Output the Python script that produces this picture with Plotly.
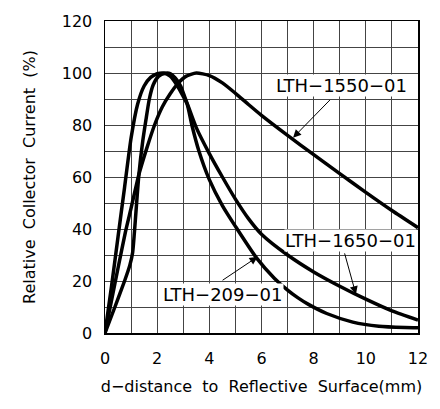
import plotly.graph_objects as go

# LTH-209-01
x209 = [0, 0.25, 0.5, 0.75, 1.0, 1.25, 1.5, 1.75, 2.0, 2.25, 2.5, 2.75, 3.0, 3.15, 3.33, 3.6, 4.0, 4.5, 5.0, 5.8, 6.5, 7.0, 7.4, 7.8, 8.5, 9.5, 10.5, 11.5, 12]
y209 = [0, 18, 37, 56, 75, 88, 95, 98.3, 99.7, 100, 98.8, 95.5, 91, 88, 80, 70, 59, 49, 41, 29, 21, 16.5, 13.5, 11, 7.5, 4.2, 2.6, 2.1, 2]

# LTH-1650-01
x1650 = [0, 0.38, 0.75, 0.95, 1.06, 1.13, 1.3, 1.45, 1.57, 1.7, 1.85, 2.05, 2.3, 2.5, 2.7, 2.9, 3.05, 3.2, 3.5, 4.0, 4.5, 5.0, 5.5, 6.0, 7.0, 8.0, 9.0, 10.0, 11.0, 12.0]
y1650 = [0, 10, 20, 26, 31, 39, 61, 74, 82, 90, 95.5, 98.7, 99.9, 99.8, 98, 95, 91, 87, 79, 69, 60, 51.5, 44, 38, 30, 23.5, 18, 13, 8.5, 5]

# LTH-1550-01
x1550 = [0, 0.25, 0.5, 0.78, 1.0, 1.3, 1.6, 1.9, 2.2, 2.5, 2.8, 3.1, 3.5, 4.0, 4.5, 5.0, 5.5, 6.0, 7.0, 8.0, 9.0, 10.0, 11.0, 12.0]
y1550 = [0, 12.5, 25, 38.7, 48, 61, 71, 80, 87, 92, 96, 98.7, 100, 99, 96.2, 92.2, 87.9, 83.7, 76, 68.6, 61.3, 54.1, 47.1, 40.5]

labels = ["LTH\u22121550\u221201", "LTH\u22121650\u221201", "LTH\u2212209\u221201"]
x_ticks = [0, 2, 4, 6, 8, 10, 12]
y_ticks = [0, 20, 40, 60, 80, 100, 120]

FONT = "DejaVu Sans"

fig = go.Figure()
for xs, ys in [(x209, y209), (x1650, y1650), (x1550, y1550)]:
    fig.add_trace(go.Scatter(x=xs, y=ys, mode="lines",
                             line=dict(color="black", width=3.5, shape="spline", smoothing=0.6),
                             showlegend=False, hoverinfo="skip"))

# labels (white boxes hide grid)
label_pos = [(9.06, 95.1), (9.4, 35.7), (4.53, 15.0)]
for t, (lx, ly) in zip(labels, label_pos):
    fig.add_annotation(x=lx, y=ly, text=t, showarrow=False, bgcolor="white",
                       font=dict(family=FONT, size=18, color="black"), borderpad=0)

# arrows: (tail, tip)
arrows = [((8.68, 90.2), (7.21, 75.1)), ((9.17, 31.2), (9.62, 14.9)), ((4.45, 19.9), (5.85, 29.3))]
for (tx, ty), (hx, hy) in arrows:
    fig.add_annotation(x=hx, y=hy, ax=tx, ay=ty, axref="x", ayref="y", text="",
                       showarrow=True, arrowhead=2, arrowsize=1.6, arrowwidth=1, arrowcolor="black")

grid_color = "#444"
fig.update_xaxes(range=[0, 12], tickvals=x_ticks, ticktext=[str(v) for v in x_ticks],
                 showgrid=True, gridcolor=grid_color, gridwidth=1,
                 minor=dict(dtick=1, showgrid=True, gridcolor=grid_color, gridwidth=1),
                 showline=True, linecolor="black", linewidth=1.5, mirror=True,
                 zeroline=False, ticks="", ticklabelstandoff=10,
                 tickfont=dict(family=FONT, size=16, color="black"),
                 title=dict(text="d\u2212distance  to  Reflective  Surface(mm)",
                            font=dict(family=FONT, size=16, color="black"), standoff=14))
fig.update_yaxes(range=[0, 120], tickvals=y_ticks, ticktext=[str(v) for v in y_ticks],
                 showgrid=True, gridcolor=grid_color, gridwidth=1,
                 minor=dict(dtick=10, showgrid=True, gridcolor=grid_color, gridwidth=1),
                 showline=True, linecolor="black", linewidth=1.5, mirror=True,
                 zeroline=False, ticks="", ticklabelstandoff=8,
                 tickfont=dict(family=FONT, size=16, color="black"),
                 title=dict(text="Relative  Collector  Current  (%)",
                            font=dict(family=FONT, size=16, color="black"), standoff=22))

fig.update_layout(width=440, height=409, margin=dict(l=105, r=17, t=14, b=76),
                  plot_bgcolor="white", paper_bgcolor="white")

# remove the default page margin so the figure sits at the window's top-left corner
fig.write_html("out.html", config={"displayModeBar": False, "staticPlot": True},
               post_script="document.body.style.margin='0';document.body.style.overflow='hidden';")
